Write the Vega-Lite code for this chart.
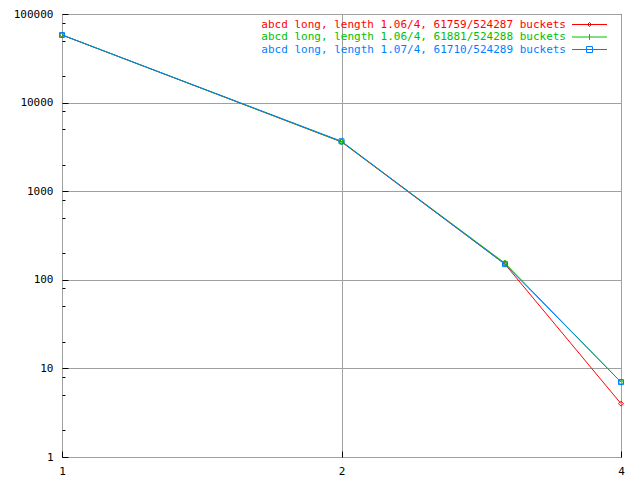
{
  "$schema": "https://vega.github.io/schema/vega-lite/v6.json",
  "autosize": "none",
  "width": 559,
  "height": 443,
  "padding": {"left": 62, "top": 14, "right": 19, "bottom": 23},
  "background": "white",
  "config": {
    "view": {"stroke": "black", "strokeWidth": 1},
    "font": "DejaVu Sans Mono",
    "axis": {"labelFont": "DejaVu Sans Mono", "labelFontSize": 11, "labelColor": "black", "domain": false, "tickColor": "black", "gridColor": "#a0a0a0", "gridOpacity": 1, "title": null}
  },
  "data": {"values": [
    {"len": 1, "count": 58005, "series": "abcd long, length 1.06/4, 61759/524287 buckets"},
    {"len": 2, "count": 3600, "series": "abcd long, length 1.06/4, 61759/524287 buckets"},
    {"len": 3, "count": 150, "series": "abcd long, length 1.06/4, 61759/524287 buckets"},
    {"len": 4, "count": 4, "series": "abcd long, length 1.06/4, 61759/524287 buckets"},
    {"len": 1, "count": 58100, "series": "abcd long, length 1.06/4, 61881/524288 buckets"},
    {"len": 2, "count": 3620, "series": "abcd long, length 1.06/4, 61881/524288 buckets"},
    {"len": 3, "count": 154, "series": "abcd long, length 1.06/4, 61881/524288 buckets"},
    {"len": 4, "count": 7, "series": "abcd long, length 1.06/4, 61881/524288 buckets"},
    {"len": 1, "count": 57900, "series": "abcd long, length 1.07/4, 61710/524289 buckets"},
    {"len": 2, "count": 3660, "series": "abcd long, length 1.07/4, 61710/524289 buckets"},
    {"len": 3, "count": 150, "series": "abcd long, length 1.07/4, 61710/524289 buckets"},
    {"len": 4, "count": 7, "series": "abcd long, length 1.07/4, 61710/524289 buckets"}
  ]},
  "encoding": {
    "x": {"field": "len", "type": "quantitative",
      "scale": {"type": "log", "base": 2, "domain": [1, 4], "nice": false},
      "axis": {"values": [1, 2, 4], "format": "d", "grid": true, "tickSize": -6, "labelPadding": 14, "labelFlush": false}},
    "y": {"field": "count", "type": "quantitative",
      "scale": {"type": "log", "domain": [1, 100000], "nice": false},
      "axis": {"values": [1, 2, 5, 8, 10, 20, 50, 80, 100, 200, 500, 800, 1000, 2000, 5000, 8000, 10000, 20000, 50000, 80000, 100000],
        "labelExpr": "indexof([1,10,100,1000,10000,100000], datum.value) >= 0 ? format(datum.value, 'd') : ''",
        "grid": true,
        "gridOpacity": {"condition": {"test": "indexof([1,10,100,1000,10000,100000], datum.value) >= 0", "value": 1}, "value": 0},
        "tickSize": {"condition": {"test": "indexof([1,10,100,1000,10000,100000], datum.value) >= 0", "value": -6}, "value": -3},
        "labelPadding": 15, "labelFlush": false}},
    "color": {"field": "series", "type": "nominal",
      "scale": {"domain": ["abcd long, length 1.06/4, 61759/524287 buckets", "abcd long, length 1.06/4, 61881/524288 buckets", "abcd long, length 1.07/4, 61710/524289 buckets"],
        "range": ["#ff0000", "#00c000", "#0080ff"]}}
  },
  "layer": [
    {"mark": {"type": "line", "strokeWidth": 1, "clip": true},
      "encoding": {"color": {"field": "series", "type": "nominal",
        "legend": {"title": null, "orient": "none", "legendX": 522, "legendY": 5, "symbolType": "M-3.5,0H3.5", "symbolSize": 100, "symbolStrokeWidth": 1, "symbolFillColor": "transparent",
          "labelFont": "DejaVu Sans Mono", "labelFontSize": 11, "labelAlign": "right", "labelOffset": -29, "labelLimit": 0, "rowPadding": 0.5, "padding": 0,
          "encode": {"labels": {"update": {"fill": {"scale": "color", "field": "value"}}},
                     "symbols": {"update": {"stroke": {"scale": "color", "field": "value"}, "strokeWidth": {"value": 1}, "fill": {"value": "transparent"},
                       "shape": {"signal": "datum.index == 0 ? 'M-3.5,0H3.5M0,-0.4L0.4,0L0,0.4L-0.4,0Z' : datum.index == 1 ? 'M-3.5,0H3.5M0,-0.6V0.6' : 'M-3.5,0H3.5M-0.6,-0.6H0.6V0.6H-0.6Z'"}}}}}}}},
    {"mark": {"type": "point", "size": 25, "strokeWidth": 1, "filled": false, "opacity": 1},
      "encoding": {"shape": {"field": "series", "type": "nominal", "legend": null,
        "scale": {"range": ["diamond", "cross", "square"]}}}}
  ]
}
